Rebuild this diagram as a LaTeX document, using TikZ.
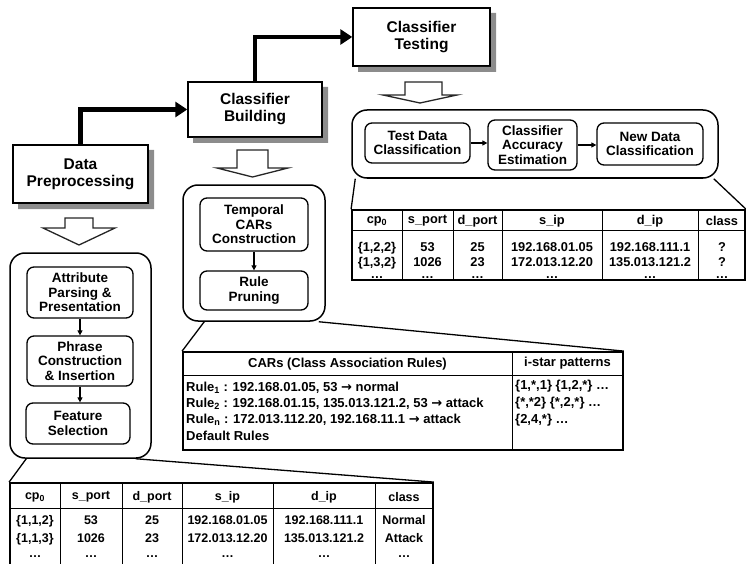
\documentclass[tikz,border=0pt]{standalone}
\usepackage{fontspec}
\setmainfont{Liberation Sans}
\newfontfamily\dv{DejaVu Sans}
\usetikzlibrary{arrows.meta}
\definecolor{stripgrey}{RGB}{140,140,140}
\tikzset{
  stage/.style={draw, fill=white, line width=1.5pt, inner sep=0pt, align=center,
    font=\fontsize{15.5}{17}\selectfont\bfseries},
  greystrip/.style={draw=none, fill=stripgrey},
  container/.style={draw, rounded corners=15pt, line width=1.5pt, inner sep=0pt},
  inbox/.style={draw, fill=white, rounded corners=7pt, line width=1.3pt, inner sep=0pt, align=center,
    font=\fontsize{13.5}{14.5}\selectfont\bfseries},
  tablebox/.style={draw, fill=white, line width=1.8pt, inner sep=0pt},
  bigarrow/.style={line width=4.8pt, -{Triangle[length=12pt,width=15pt]}},
  smallarrow/.style={line width=1.1pt, -{Triangle[length=5pt,width=5pt]}},
  hollow/.style={draw=black!85, fill=white, line width=1.3pt, line join=miter},
  callout/.style={line width=1.3pt},
  grid/.style={line width=0.9pt},
  tt/.style={font=\fontsize{12.8}{13}\selectfont\bfseries, inner sep=0pt},
  bt/.style={font=\fontsize{12.5}{13}\selectfont\bfseries, inner sep=0pt},
  ct/.style={font=\fontsize{13}{14}\selectfont\bfseries, inner sep=0pt},
}
\begin{document}
\begin{tikzpicture}[x=1pt,y=-1pt]
\useasboundingbox (0,0) rectangle (746,564);

% stage boxes
\node[stage, minimum width=135pt, minimum height=58pt] (dp) at (80.5,174) {Data\\Preprocessing};
\node[stage, minimum width=134pt, minimum height=55pt] (cb) at (255,109.5) {Classifier\\Building};
\node[stage, minimum width=137pt, minimum height=58pt] (cts) at (421.5,37) {Classifier\\Testing};

% grey offset strips on the right and bottom of the stage boxes
\path[greystrip] (149,150) -- (154,150) -- (154,209) -- (18,209) -- (18,204) -- (149,204) -- cycle;
\path[greystrip] (323,87) -- (328,87) -- (328,143) -- (193,143) -- (193,138) -- (323,138) -- cycle;
\path[greystrip] (491,13) -- (496,13) -- (496,72) -- (358,72) -- (358,67) -- (491,67) -- cycle;

% big arrows
\draw[bigarrow] (dp.north) |- (cb.west);
\draw[bigarrow] (cb.north) |- (cts.west);

% hollow block arrows
\draw[hollow] (65,218)--(93,218)--(93,228)--(115,228)--(79,245)--(43,228)--(65,228)--cycle;
\draw[hollow] (237,150)--(268,150)--(268,168)--(288,168)--(252.5,177)--(217,168)--(237,168)--cycle;
\draw[hollow] (405,82)--(442,82)--(442,95)--(457,95)--(420,103)--(383,95)--(405,95)--cycle;

% containers
\node[container, minimum width=141pt, minimum height=205pt] (lc) at (80.5,355.5) {};
\node[container, minimum width=142pt, minimum height=136pt] (mc) at (254,253) {};
\node[container, minimum width=366pt, minimum height=68pt] (rc) at (535,144) {};

% left inner boxes
\node[inbox, minimum width=106pt, minimum height=51pt] (ap) at (80,292.5) {Attribute\\Parsing \&\\Presentation};
\node[inbox, minimum width=106pt, minimum height=50pt] (pc) at (80,361) {Phrase\\Construction\\\& Insertion};
\node[inbox, minimum width=104pt, minimum height=41pt] (fs) at (78,423.5) {Feature\\Selection};
\draw[smallarrow] (ap.south) -- (ap.south |- pc.north);
\draw[smallarrow] (pc.south) -- (pc.south |- fs.north);

% middle inner boxes
\node[inbox, minimum width=108pt, minimum height=53pt] (tc) at (254,224.5) {Temporal\\CARs\\Construction};
\node[inbox, minimum width=108pt, minimum height=39pt] (rp) at (254,290.5) {Rule\\Pruning};
\draw[smallarrow] (tc) -- (rp);

% right inner boxes
\node[inbox, minimum width=105pt, minimum height=40pt] (td) at (417.5,143) {Test Data\\Classification};
\node[inbox, minimum width=89pt, minimum height=50pt] (ca) at (532.5,145) {Classifier\\Accuracy\\Estimation};
\node[inbox, minimum width=106pt, minimum height=42pt] (nd) at (650,144) {New Data\\Classification};
\draw[smallarrow] (td.east) -- (td.east -| ca.west);
\draw[smallarrow] (ca.east) -- (ca.east -| nd.west);

% ---------- top table ----------
\node[tablebox, minimum width=393pt, minimum height=70pt] (ttab) at (548.5,245) {};
\draw[callout] ([xshift=4pt]rc.south west) -- (ttab.north west);
\draw[callout] ([xshift=-5pt]rc.south east) -- (ttab.north east);
\draw[grid] (352,230) -- (745,230);
\foreach \x in {402,453,502,602,698} \draw[grid] (\x,210) -- (\x,280);
\foreach \x/\t in {377/cp\textsubscript{0},427.5/s\_port,477.5/d\_port,552/s\_ip,650/d\_ip,722/class}
  \node[tt] at (\x,221) {\t};
\foreach \x/\a/\b in {377/{\{1,2,2\}}/{\{1,3,2\}},427.5/53/1026,477.5/25/23,552/192.168.01.05/172.013.12.20,650/192.168.111.1/135.013.121.2,722/?/?}{
  \node[tt, anchor=base] at (\x,251) {\a};
  \node[tt, anchor=base] at (\x,266) {\b};
  \node[tt, anchor=base] at (\x,278) {…};
}

% ---------- CARs table ----------
\node[tablebox, minimum width=440pt, minimum height=98pt] (ctab) at (403,401) {};
\draw[callout] ([xshift=22pt]mc.south west) -- (ctab.north west);
\draw[callout] ([xshift=-7pt]mc.south east) -- (ctab.north east);
\draw[grid] (183,375) -- (623,375);
\draw[grid] (512,352) -- (512,450);
\node[ct] at (347.5,364) {CARs (Class Association Rules)};
\node[ct] at (567.5,363) {i-star patterns};
\node[ct, anchor=west] at (186,388) {Rule\textsubscript{1} : 192.168.01.05, 53 {\dv →} normal};
\node[ct, anchor=west] at (186,404) {Rule\textsubscript{2} : 192.168.01.15, 135.013.121.2, 53 {\dv →} attack};
\node[ct, anchor=west] at (186,420) {Rule\textsubscript{n} : 172.013.112.20, 192.168.11.1 {\dv →} attack};
\node[ct, anchor=west] at (186,436) {Default Rules};
\node[ct, anchor=west] at (515,386) {\{1,*,1\} \{1,2,*\} …};
\node[ct, anchor=west] at (515,403) {\{*,*2\} \{*,2,*\} …};
\node[ct, anchor=west] at (515,420) {\{2,4,*\} …};

% ---------- bottom table ----------
\node[tablebox, minimum width=423pt, minimum height=89pt] (btab) at (221.5,527.5) {};
\draw[callout] ([xshift=17pt]lc.south west) -- (btab.north west);
\draw[callout] ([xshift=-16pt]lc.south east) -- (btab.north east);
\draw[grid] (10,508) -- (433,508);
\foreach \x in {60,122,182,273,375} \draw[grid] (\x,483) -- (\x,572);
\foreach \x/\t in {35/cp\textsubscript{0},91/s\_port,152/d\_port,227.5/s\_ip,324/d\_ip,404/class}
  \node[bt] at (\x,497) {\t};
\foreach \x/\a/\b in {35/{\{1,1,2\}}/{\{1,1,3\}},91/53/1026,152/25/23,227.5/192.168.01.05/172.013.12.20,324/192.168.111.1/135.013.121.2,404/Normal/Attack}{
  \node[bt, anchor=base] at (\x,524.5) {\a};
  \node[bt, anchor=base] at (\x,542.5) {\b};
  \node[bt, anchor=base] at (\x,557) {…};
}
\end{tikzpicture}
\end{document}
